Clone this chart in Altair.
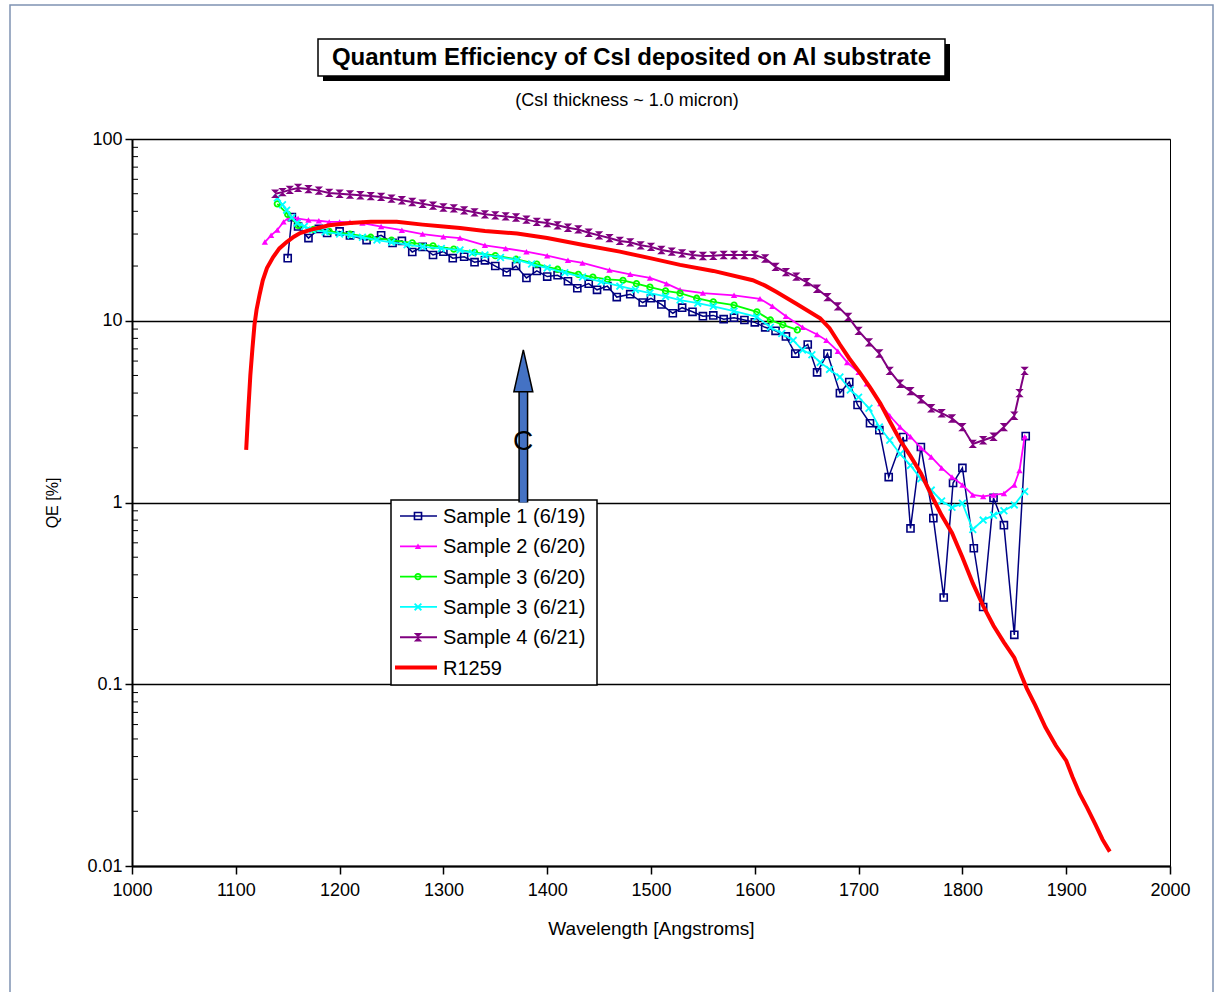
import altair as alt
import pandas as pd

# ---------------- data ----------------
s1_wl = [1150,1154,1160,1170,1180,1188,1200,1210,1226,1240,1251,1260,1270,1280,1290,1300,1309,1320,1330,1340,1350,1361,1370,1380,1390,1400,1410,1420,1429,1440,1448,1458,1467,1480,1492,1500,1510,1521,1530,1540,1550,1560,1570,1580,1590,1600,1610,1620,1630,1639,1651,1660,1670,1682,1691,1699,1711,1720,1729,1743,1750,1760,1772,1782,1791,1800,1811,1820,1830,1840,1850,1861]
s1_qe = [22.1,37.2,33,28.5,32,30.4,31,29.5,27.8,29.5,26.8,27.5,23.9,25.5,23,24,22.1,22.5,21,21.5,20,18.5,20,17.2,18.8,17.5,17.8,16.5,15.1,16,14.8,15.5,13.5,14,12.6,13.3,12.3,11,11.8,11.2,10.6,10.7,10.2,10.4,10.1,9.8,9.2,8.8,8.2,6.6,7.4,5.2,6.6,4.0,4.6,3.44,2.73,2.5,1.38,2.29,0.72,2.02,0.82,0.30,1.28,1.55,0.56,0.266,1.06,0.75,0.187,2.32]

s2_wl = [1128,1134,1140,1146,1152,1160,1170,1180,1190,1200,1210,1222,1240,1260,1280,1300,1316,1340,1360,1380,1400,1420,1434,1460,1480,1499,1515,1528,1550,1580,1605,1617,1630,1646,1660,1669,1680,1689,1700,1708,1721,1730,1740,1750,1760,1770,1780,1790,1800,1810,1820,1830,1840,1850,1855,1860]
s2_qe = [27.1,29.5,31.6,35,37.2,36.5,35.8,35.5,35,35,34.8,34.5,33,31.5,30,29,28.5,26,25,24,22.8,21.5,20.8,19,18,17.2,16,14.8,14.2,13.8,13.2,12.0,10.6,9.2,8.4,7.8,6.8,5.9,5.2,4.5,3.5,3.0,2.6,2.3,2.0,1.78,1.55,1.38,1.25,1.1,1.08,1.1,1.12,1.25,1.5,2.3]

s3a_wl = [1140,1150,1160,1175,1190,1210,1230,1250,1270,1290,1310,1330,1350,1370,1390,1410,1430,1444,1458,1473,1486,1499,1514,1528,1544,1560,1580,1602,1615,1627,1641]
s3a_qe = [44,38.5,33.5,31.8,31,30,28.8,27.8,26.8,25.8,24.8,23.8,22.8,21.8,20.5,19.2,18,17.4,16.9,16.7,16,15.3,14.6,14.2,13.3,12.7,12.2,11.2,10.1,9.5,8.9]

s3b_wl = [1140,1145,1149,1154,1159,1166,1174,1186,1200,1211,1222,1236,1250,1265,1280,1298,1316,1328,1340,1355,1371,1385,1400,1417,1434,1452,1470,1485,1499,1514,1528,1545,1560,1580,1602,1615,1626,1637,1646,1655,1663,1672,1682,1692,1700,1710,1720,1730,1740,1750,1760,1770,1780,1790,1800,1810,1820,1830,1840,1850,1860]
s3b_qe = [47.3,43.5,40.6,37,34.5,33,31.6,30.8,30,29.5,28.8,27.8,27,26.2,25.5,25,24.5,23.6,23,22.3,21.6,20.5,19.5,18.4,17.4,16.4,15.5,14.8,14.2,13.6,13,12.5,12,11.3,10.5,9.2,8.5,7.8,6.9,6.5,5.9,5.4,4.9,4.16,3.8,3.3,2.6,2.2,1.85,1.6,1.35,1.17,1.02,0.94,0.99,0.71,0.8,0.85,0.9,0.97,1.15]

s4_wl = [1138,1145,1152,1160,1170,1180,1190,1200,1210,1220,1230,1240,1250,1260,1270,1280,1290,1300,1310,1320,1330,1340,1350,1360,1370,1380,1390,1400,1410,1420,1430,1440,1450,1460,1470,1480,1490,1500,1510,1520,1530,1540,1550,1560,1570,1580,1590,1600,1610,1620,1630,1640,1650,1660,1670,1680,1690,1700,1710,1720,1730,1740,1750,1760,1770,1780,1790,1800,1810,1820,1830,1840,1850,1855,1860]
s4_qe = [50,51,52.5,53.8,53,52,50.5,50,49.5,49,48.5,48,47,46,45,44,43,42,41.5,40.5,39.5,38.5,38,37.5,37,36,35,34.5,33.5,32.5,31.8,30.5,29.5,28.5,27.5,27,26,25.5,24.5,24,23.5,23,22.7,22.8,23,23,23,23,22,19.8,18.5,17.5,16.3,15,13.5,12,10.5,8.8,7.6,6.6,5.3,4.5,4.1,3.7,3.3,3.1,2.9,2.6,2.1,2.2,2.3,2.6,3.0,4.0,5.3]

r_wl = [1110,1112,1114,1116,1118,1120,1123,1126,1130,1136,1142,1149,1156,1162,1175,1190,1210,1230,1255,1280,1300,1316,1340,1371,1400,1435,1470,1499,1528,1560,1598,1610,1621,1640,1663,1672,1682,1691,1701,1711,1721,1730,1740,1750,1760,1770,1780,1790,1800,1810,1820,1830,1840,1850,1856,1862,1870,1880,1890,1900,1906,1913,1920,1928,1935,1942]
r_qe = [1.95,3.2,5,7,9.5,11.5,14,16.7,19.5,22.4,25,27.1,29,30.4,32,33.5,34.5,35,35,33.8,33,32.4,31.2,30.2,28.5,26.1,24,22.1,20.3,18.8,16.7,15.6,14.4,12.4,10.3,9.1,7.4,6.2,5.2,4.3,3.5,2.8,2.2,1.8,1.45,1.1,0.85,0.68,0.5,0.36,0.27,0.21,0.17,0.14,0.115,0.095,0.077,0.058,0.046,0.038,0.031,0.025,0.021,0.017,0.014,0.012]

series_names = ["Sample 1 (6/19)", "Sample 2 (6/20)", "Sample 3 (6/20)",
                "Sample 3 (6/21)", "Sample 4 (6/21)", "R1259"]

y_major = [0.01, 0.1, 1, 10, 100]
x_ticks = [1000, 1100, 1200, 1300, 1400, 1500, 1600, 1700, 1800, 1900, 2000]
y_minor = [m * d for d in (0.01, 0.1, 1, 10) for m in range(2, 10)]

arrow_wl = 1377
arrow_base, arrow_head_base, arrow_head_mid = 1.0, 4.06, 5.3

title_text = "Quantum Efficiency of CsI deposited on Al substrate"
subtitle_text = "(CsI thickness ~ 1.0 micron)"

# ---------------- styles ----------------
FONT = "Liberation Sans"
W, H = 1038, 727
XPATH = "M-1,-1L1,1M1,-1L-1,1"
HOURGLASS = "M-1,-1L1,-1L-1,1L1,1Z"

styles = [
    dict(color="#000080", width=1.5, shape="square", filled=False, size=50, sw=1.6),
    dict(color="#FF00FF", width=1.8, shape="triangle-up", filled=True, size=40, sw=1),
    dict(color="#00FF00", width=1.8, shape="circle", filled=False, size=30, sw=1.8),
    dict(color="#00FFFF", width=1.8, shape=XPATH, filled=False, size=45, sw=1.8),
    dict(color="#800080", width=2, shape=HOURGLASS, filled=True, size=70, sw=1),
    dict(color="#FF0000", width=4, shape=None),
]
data_sets = [(s1_wl, s1_qe), (s2_wl, s2_qe), (s3a_wl, s3a_qe),
             (s3b_wl, s3b_qe), (s4_wl, s4_qe), (r_wl, r_qe)]

xscale = alt.Scale(domain=[1000, 2000], nice=False, zero=False)
yscale = alt.Scale(type="log", domain=[0.01, 100], nice=False)
xaxis = alt.Axis(values=x_ticks, format="d", title="Wavelength [Angstroms]", grid=False,
                 tickSize=8, tickColor="black", tickWidth=1.5, domainColor="black",
                 domainWidth=2, labelFont=FONT, labelFontSize=18, labelColor="black",
                 labelPadding=7, titleFont=FONT, titleFontSize=19, titleFontWeight="normal",
                 titleColor="black", titlePadding=20, labelFlush=False)
yaxis = alt.Axis(values=y_major, title="QE  [%]", grid=True, gridColor="black",
                 gridWidth=1.5, tickSize=7, tickColor="black", tickWidth=1.5,
                 domainColor="black", domainWidth=2, labelFont=FONT, labelFontSize=18,
                 labelColor="black", labelPadding=3, labelExpr="'' + datum.value",
                 titleFont=FONT, titleFontSize=16, titleFontWeight="normal",
                 titleColor="black", titlePadding=26, labelFlush=False)


def X(field="wl"):
    return alt.X(f"{field}:Q", scale=xscale, axis=xaxis)


def Y(field="qe"):
    return alt.Y(f"{field}:Q", scale=yscale, axis=yaxis)


layers = []

# minor ticks on the y axis (inside)
minor_df = pd.DataFrame({"qe": y_minor})
layers.append(alt.Chart(minor_df).mark_rule(color="black", strokeWidth=1).encode(
    y=Y(), x=alt.value(0), x2=alt.value(6)))

# series
for name, (wl, qe), st in zip(series_names, data_sets, styles):
    df = pd.DataFrame({"wl": wl, "qe": qe, "series": name})
    layers.append(alt.Chart(df).mark_line(color=st["color"], strokeWidth=st["width"],
                                          clip=True).encode(x=X(), y=Y()))
    if st["shape"]:
        kw = dict(shape=st["shape"], filled=st["filled"], size=st["size"],
                  strokeWidth=st["sw"], color=st["color"], opacity=1)
        layers.append(alt.Chart(df).mark_point(**kw).encode(x=X(), y=Y()))

# legend (drawn by hand inside the plot area)
one = pd.DataFrame({"k": [0]})
LX0, LY0, LX1, LY1 = 259, 361, 465, 546
layers.append(alt.Chart(one).mark_rect(fill="white", stroke="black", strokeWidth=1.5).encode(
    x=alt.value(LX0), x2=alt.value(LX1), y=alt.value(LY0), y2=alt.value(LY1)))
for i, (name, st) in enumerate(zip(series_names, styles)):
    yy = 377 + i * 30.3
    layers.append(alt.Chart(one).mark_rule(color=st["color"], strokeWidth=st["width"]).encode(
        x=alt.value(268 if st["shape"] else 263), x2=alt.value(305), y=alt.value(yy)))
    if st["shape"]:
        layers.append(alt.Chart(one).mark_point(
            shape=st["shape"], filled=st["filled"], size=st["size"], strokeWidth=st["sw"],
            color=st["color"], opacity=1).encode(x=alt.value(286), y=alt.value(yy)))
    layers.append(alt.Chart(one).mark_text(text=name, align="left", baseline="middle",
                                           font=FONT, fontSize=20, color="black").encode(
        x=alt.value(311), y=alt.value(yy + 1)))

# arrow annotation
arrow_df = pd.DataFrame({"wl": [arrow_wl], "qe": [arrow_base], "qe2": [arrow_head_base],
                         "mid": [arrow_head_mid]})
layers.append(alt.Chart(arrow_df).mark_rule(color="black", strokeWidth=10).encode(
    x=X(), y=Y(), y2="qe2:Q"))
layers.append(alt.Chart(arrow_df).mark_rule(color="#4472C4", strokeWidth=7).encode(
    x=X(), y=Y(), y2="qe2:Q"))
layers.append(alt.Chart(arrow_df).mark_point(
    shape="M0,-1L0.45,1L-0.45,1Z", size=1764, filled=True, fill="#4472C4",
    stroke="black", strokeWidth=1.5, opacity=1).encode(x=X(), y=Y("mid")))
layers.append(alt.Chart(one).mark_text(text="C", font=FONT, fontSize=28, color="black",
                                       align="center", baseline="middle").encode(
    x=alt.value(391), y=alt.value(303)))

# title box with shadow
layers.append(alt.Chart(one).mark_rect(fill="black", clip=False).encode(
    x=alt.value(191), x2=alt.value(818), y=alt.value(-95), y2=alt.value(-58)))
layers.append(alt.Chart(one).mark_rect(fill="white", stroke="black", strokeWidth=1.5).encode(
    x=alt.value(186), x2=alt.value(813), y=alt.value(-100), y2=alt.value(-63)))
layers.append(alt.Chart(one).mark_text(text=title_text, font=FONT, fontSize=24,
                                       fontWeight="bold", color="black", align="center",
                                       baseline="middle").encode(
    x=alt.value(499.5), y=alt.value(-81)))
layers.append(alt.Chart(one).mark_text(text=subtitle_text, font=FONT, fontSize=18,
                                       color="black", align="center",
                                       baseline="middle").encode(
    x=alt.value(495), y=alt.value(-38)))

# outer frame
layers.append(alt.Chart(one).mark_rect(fill=None, stroke="#7f93b3", strokeWidth=1.5).encode(
    x=alt.value(-122), x2=alt.value(1081), y=alt.value(-134), y2=alt.value(870)))

chart = alt.layer(*layers).properties(
    width=W, height=H,
    autosize=alt.AutoSizeParams(type="none"),
    padding={"left": 132, "top": 139, "right": 54, "bottom": 126},
    background="white",
).configure_view(stroke="black", strokeWidth=1)

chart.save("out.html", embed_options={"renderer": "svg", "actions": False})
